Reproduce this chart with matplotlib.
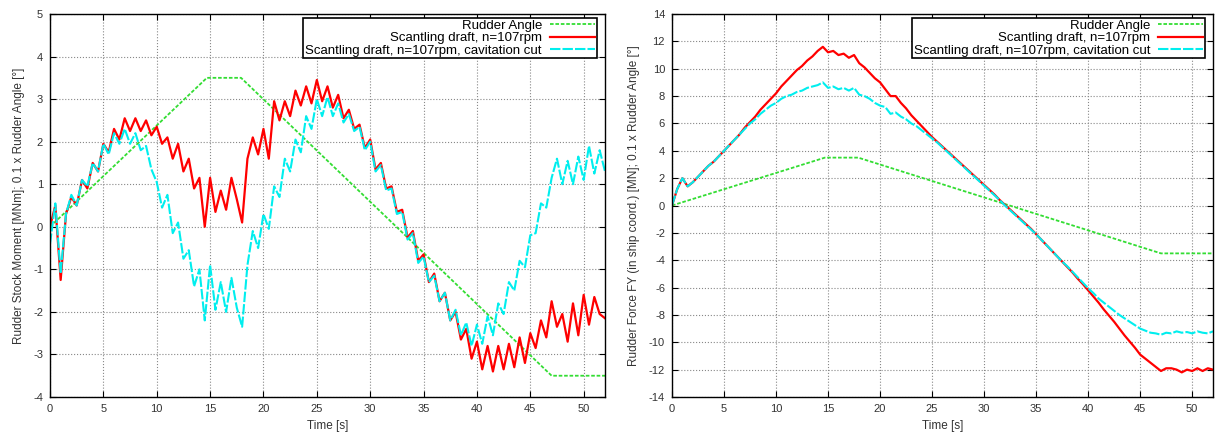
import numpy as np
import matplotlib
matplotlib.use("Agg")
import matplotlib.pyplot as plt

# ---------------- data ----------------
time_step = 0.5  # s, sampling of the read-off series

rudder_t = [0.0, 14.7, 17.9, 47.0, 52.0]
rudder_angle_x01 = [0.0, 3.5, 3.5, -3.5, -3.5]

moment_red = [
    0.0, 0.5, -1.25, 0.3, 0.7, 0.5, 1.1, 0.9, 1.5, 1.3,
    1.95, 1.75, 2.3, 2.05, 2.55, 2.25, 2.55, 2.25, 2.5, 2.15,
    2.35, 1.95, 2.1, 1.6, 1.95, 1.3, 1.6, 0.9, 1.15, 0.0,
    1.15, 0.35, 0.85, 0.4, 1.15, 0.65, 0.1, 1.6, 2.1, 1.7,
    2.3, 1.6, 2.95, 2.5, 2.95, 2.6, 3.2, 2.85, 3.3, 2.9,
    3.45, 2.95, 3.3, 2.8, 3.1, 2.55, 2.75, 2.3, 2.4, 1.85,
    2.05, 1.35, 1.5, 0.9, 0.95, 0.35, 0.4, -0.25, -0.1, -0.8,
    -0.65, -1.3, -1.1, -1.75, -1.55, -2.2, -2.0, -2.65, -2.4, -3.1,
    -2.7, -3.35, -2.8, -3.4, -2.8, -3.35, -2.75, -3.3, -2.6, -3.2,
    -2.5, -2.85, -2.2, -2.6, -1.75, -2.35, -2.05, -2.7, -1.8, -2.55,
    -1.6, -2.3, -1.65, -2.05, -2.15,
]
moment_cyan = [
    -0.4, 0.55, -1.1, 0.3, 0.75, 0.5, 1.1, 0.95, 1.5, 1.3,
    1.95, 1.7, 2.2, 1.95, 2.3, 1.95, 2.2, 1.8, 1.9, 1.35,
    1.05, 0.45, 0.75, -0.15, 0.1, -0.75, -0.55, -1.4, -1.0, -2.2,
    -0.9, -1.95, -1.3, -2.0, -1.2, -1.9, -2.35, -0.9, -0.1, -0.5,
    0.3, -0.05, 0.95, 0.7, 1.6, 1.3, 2.05, 1.75, 2.6, 2.3,
    3.0, 2.6, 3.05, 2.6, 2.9, 2.45, 2.65, 2.25, 2.35, 1.8,
    2.0, 1.3, 1.45, 0.85, 0.9, 0.3, 0.35, -0.3, -0.15, -0.85,
    -0.7, -1.3, -1.15, -1.75, -1.55, -2.2, -1.95, -2.55, -2.25, -2.8,
    -2.3, -2.75, -2.1, -2.55, -1.8, -2.05, -1.3, -1.5, -0.8, -0.95,
    -0.2, -0.15, 0.55, 0.45, 1.15, 1.6, 1.0, 1.55, 1.0, 1.65,
    1.1, 1.9, 1.25, 1.8, 1.3,
]

force_red = [
    0.0, 1.2, 2.0, 1.4, 1.7, 2.1, 2.5, 2.9, 3.2, 3.6,
    4.0, 4.4, 4.8, 5.2, 5.7, 6.1, 6.5, 7.0, 7.4, 7.8,
    8.2, 8.7, 9.1, 9.5, 9.9, 10.2, 10.6, 10.9, 11.3, 11.6,
    11.2, 11.3, 11.0, 11.1, 10.8, 11.0, 10.4, 10.1, 9.7, 9.3,
    9.0, 8.5, 8.0, 8.0, 7.5, 7.1, 6.6, 6.2, 5.8, 5.4,
    5.0, 4.65, 4.3, 3.95, 3.6, 3.25, 2.9, 2.55, 2.2, 1.85,
    1.5, 1.15, 0.8, 0.4, 0.05, -0.3, -0.65, -1.0, -1.35, -1.7,
    -2.1, -2.5, -2.9, -3.3, -3.7, -4.1, -4.5, -4.9, -5.35, -5.75,
    -6.2, -6.65, -7.1, -7.6, -8.05, -8.5, -9.0, -9.5, -9.95, -10.4,
    -10.9, -11.2, -11.5, -11.8, -12.1, -11.9, -11.9, -12.0, -12.2, -12.0,
    -12.1, -11.9, -12.1, -11.9, -12.0,
]
force_cyan = [
    0.0, 1.2, 2.0, 1.4, 1.7, 2.1, 2.5, 2.9, 3.2, 3.6,
    4.0, 4.4, 4.8, 5.2, 5.6, 6.0, 6.3, 6.7, 7.0, 7.3,
    7.5, 7.8, 8.0, 8.1, 8.3, 8.4, 8.6, 8.7, 8.8, 9.0,
    8.6, 8.7, 8.5, 8.6, 8.4, 8.6, 8.1, 8.0, 7.8, 7.5,
    7.3, 7.2, 6.7, 6.8, 6.5, 6.3, 6.0, 5.8, 5.5, 5.2,
    4.9, 4.6, 4.25, 3.9, 3.55, 3.2, 2.85, 2.5, 2.15, 1.8,
    1.45, 1.1, 0.75, 0.4, 0.0, -0.35, -0.7, -1.05, -1.4, -1.75,
    -2.1, -2.5, -2.9, -3.3, -3.7, -4.1, -4.45, -4.85, -5.25, -5.65,
    -6.05, -6.4, -6.8, -7.1, -7.4, -7.7, -8.0, -8.25, -8.5, -8.75,
    -9.0, -9.15, -9.3, -9.35, -9.45, -9.3, -9.35, -9.2, -9.3, -9.25,
    -9.35, -9.2, -9.3, -9.35, -9.2,
]

legend_labels = ["Rudder Angle", "Scantling draft, n=107rpm",
                 "Scantling draft, n=107rpm, cavitation cut"]
xticks = [0, 5, 10, 15, 20, 25, 30, 35, 40, 45, 50]
left_yticks = [-4, -3, -2, -1, 0, 1, 2, 3, 4, 5]
right_yticks = [-14, -12, -10, -8, -6, -4, -2, 0, 2, 4, 6, 8, 10, 12, 14]

# ---------------- plotting ----------------
plt.rcParams['font.family'] = ['Liberation Sans', 'DejaVu Sans']
plt.rcParams['axes.unicode_minus'] = False
fig = plt.figure(figsize=(12.15, 4.32), dpi=100)

W, H = 1215.0, 432.0
axL = fig.add_axes([50 / W, 1 - 397 / H, (605 - 50) / W, (397 - 14) / H])
axR = fig.add_axes([672 / W, 1 - 397 / H, (1213 - 672) / W, (397 - 14) / H])

GREEN = '#33dd33'
RED = '#ff0000'
CYAN = '#00eeee'
TXT = '#333333'


def style(ax, yticks, ylabel):
    ax.set_xlim(0, 52)
    ax.set_ylim(yticks[0], yticks[-1])
    ax.set_xticks(xticks)
    ax.set_yticks(yticks)
    ax.tick_params(direction='in', top=True, right=True, length=4,
                   labelsize=8, pad=5, width=0.8, labelcolor=TXT)
    ax.grid(True, color='#888888', linestyle=':', linewidth=0.8)
    for s in ax.spines.values():
        s.set_linewidth(1.0)
    ax.set_xlabel('Time [s]', fontsize=8.5, labelpad=4, color=TXT)
    ax.set_ylabel(ylabel, fontsize=8.5, labelpad=6, color=TXT)


for ax, red, cyan, yt, ylab in [
    (axL, moment_red, moment_cyan, left_yticks,
     'Rudder Stock Moment [MNm]; 0.1 x Rudder Angle [°]'),
    (axR, force_red, force_cyan, right_yticks,
     'Rudder Force FY (in ship coord.) [MN]; 0.1 x Rudder Angle [°]'),
]:
    t_red = np.arange(len(red)) * time_step
    t_cyan = np.arange(len(cyan)) * time_step
    l1, = ax.plot(rudder_t, rudder_angle_x01, color=GREEN, lw=1.3,
                  linestyle=(0, (2, 1)), label=legend_labels[0])
    l2, = ax.plot(t_red, red, color=RED, lw=1.6, label=legend_labels[1])
    l3, = ax.plot(t_cyan, cyan, color=CYAN, lw=1.5,
                  linestyle=(0, (5, 1)), label=legend_labels[2])
    style(ax, yt, ylab)
    leg = ax.legend(handles=[l1, l2, l3], loc='upper right',
                    bbox_to_anchor=(0.985, 0.99), fontsize=9.5,
                    markerfirst=False, alignment='right', fancybox=False,
                    framealpha=1, edgecolor='black', borderpad=0.15,
                    labelspacing=0.0, handlelength=3.4, handletextpad=0.6,
                    borderaxespad=0)
    leg.get_frame().set_linewidth(1.2)
    for txt in leg.get_texts():
        txt.set_ha('right')

fig.savefig('out.png', dpi=100)
